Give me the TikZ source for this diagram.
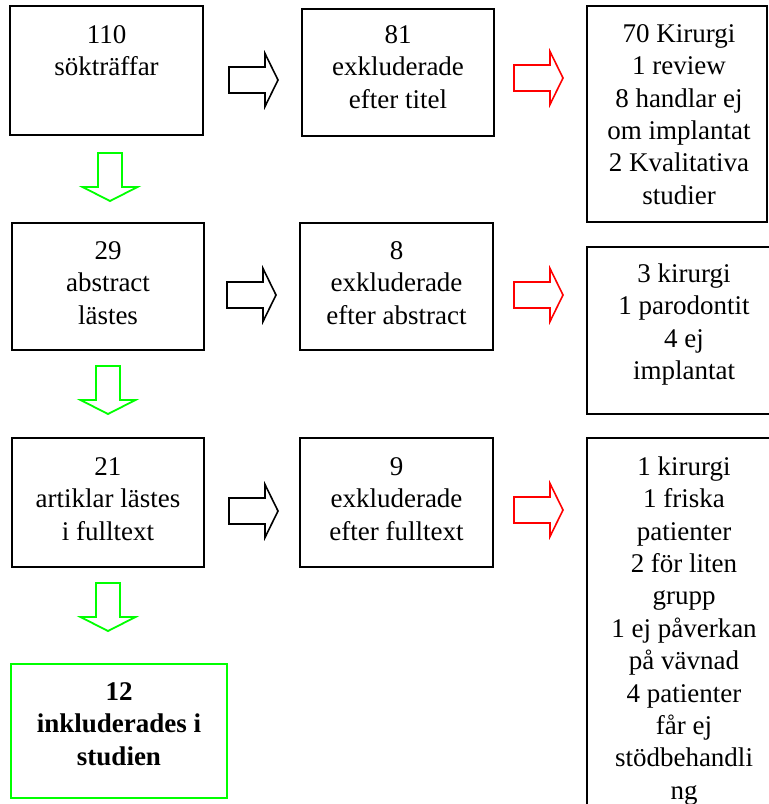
\documentclass[tikz,border=0pt]{standalone}
\usepackage{fontspec}
\setmainfont{Liberation Serif}
\definecolor{grn}{RGB}{0,255,0}
\definecolor{rd}{RGB}{255,0,0}
\begin{document}
\begin{tikzpicture}[x=1pt,y=-1pt,
  box/.style={draw, line width=1.8pt, inner sep=0pt, outer sep=0pt},
  txt/.style={anchor=north, align=center, inner sep=0pt, font=\fontsize{27}{32.4}\selectfont},
  pics/rarrow/.style={code={\draw[line width=1.6pt, #1] (0,-13) -- (36,-13) -- (36,-26.5) -- (49,0) -- (36,26.5) -- (36,13) -- (0,13) -- cycle;}},
  pics/darrow/.style={code={\draw[line width=1.8pt, #1] (-12,0) -- (-12,34) -- (-27.5,34) -- (0,48) -- (27.5,34) -- (12,34) -- (12,0) -- cycle;}}
]
\clip (0,0) rectangle (769,804);
% column 1
\node[box, minimum width=193pt, minimum height=129pt] (A) at (106.5,70.5) {};
\node[txt] (At) at (106.5,22) {\rule{0pt}{21pt}110\\sökträffar};
\node[box, minimum width=192pt, minimum height=127pt] (D) at (108,286.5) {};
\node[txt] (Dt) at (108,238) {\rule{0pt}{21pt}29\\abstract\\lästes};
\node[box, minimum width=192pt, minimum height=129pt] (G) at (108,502.5) {};
\node[txt] (Gt) at (108,454) {\rule{0pt}{21pt}21\\artiklar lästes\\i fulltext};
\node[box, draw=grn, line width=2.4pt, minimum width=216pt, minimum height=134pt] (J) at (119,731) {};
\node[txt, font=\fontsize{27}{32.4}\selectfont\bfseries] (Jt) at (119,679) {\rule{0pt}{21pt}12\\inkluderades i\\studien};
% column 2
\node[box, minimum width=192pt, minimum height=127pt] (B) at (398,72.5) {};
\node[txt] (Bt) at (398,22) {\rule{0pt}{21pt}81\\exkluderade\\efter titel};
\node[box, minimum width=193pt, minimum height=127pt] (E) at (396.5,286.5) {};
\node[txt] (Et) at (396.5,238) {\rule{0pt}{21pt}8\\exkluderade\\efter abstract};
\node[box, minimum width=193pt, minimum height=129pt] (H) at (396.5,502.5) {};
\node[txt] (Ht) at (396.5,454) {\rule{0pt}{21pt}9\\exkluderade\\efter fulltext};
% column 3
\node[box, minimum width=180pt, minimum height=216pt] (C) at (677,114) {};
\node[txt] (Ct) at (679,21) {\rule{0pt}{21pt}70 Kirurgi\\1 review\\8 handlar ej\\om implantat\\2 Kvalitativa\\studier};
\node[box, minimum width=194pt, minimum height=167pt] (F) at (684,330.5) {};
\node[txt] (Ft) at (684,261) {\rule{0pt}{21pt}3 kirurgi\\1 parodontit\\4 ej\\implantat};
\node[box, minimum width=194pt, minimum height=392pt] (I) at (684,634) {};
\node[txt] (It) at (684,454) {\rule{0pt}{21pt}1 kirurgi\\1 friska\\patienter\\2 för liten\\grupp\\1 ej påverkan\\på vävnad\\4 patienter\\får ej\\stödbehandli\\ng};
% block arrows
\pic at (229,80) {rarrow=black};
\pic at (227,295) {rarrow=black};
\pic at (229,511) {rarrow=black};
\pic at (514,78) {rarrow=rd};
\pic at (514,295) {rarrow=rd};
\pic at (514,510) {rarrow=rd};
\pic at (110,153) {darrow=grn};
\pic at (108,366) {darrow=grn};
\pic at (108,583) {darrow=grn};
\end{tikzpicture}
\end{document}
